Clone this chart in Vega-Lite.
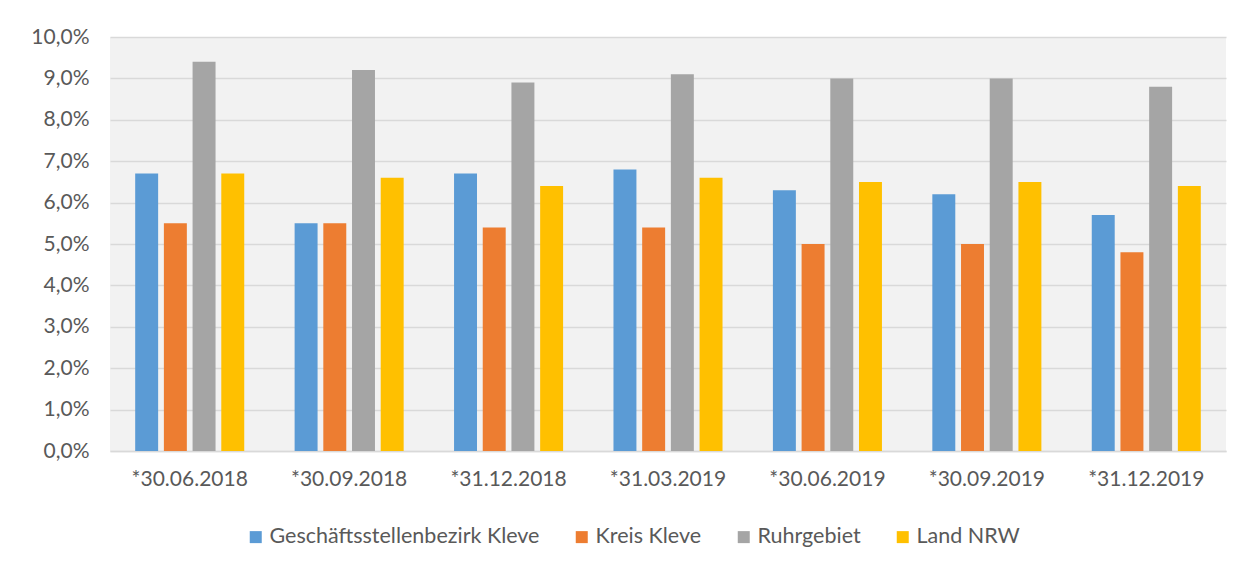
{
  "$schema": "https://vega.github.io/schema/vega-lite/v6.json",
  "width": 1116,
  "height": 414,
  "autosize": "none",
  "padding": {"left": 110, "top": 37, "right": 12, "bottom": 117},
  "background": "#ffffff",
  "config": {
    "font": "Lato",
    "view": {"fill": "#f2f2f2", "stroke": null}
  },
  "data": {
    "values": [
      {"datum": "*30.06.2018", "serie": "Geschäftsstellenbezirk Kleve", "wert": 6.7},
      {"datum": "*30.06.2018", "serie": "Kreis Kleve", "wert": 5.5},
      {"datum": "*30.06.2018", "serie": "Ruhrgebiet", "wert": 9.4},
      {"datum": "*30.06.2018", "serie": "Land NRW", "wert": 6.7},
      {"datum": "*30.09.2018", "serie": "Geschäftsstellenbezirk Kleve", "wert": 5.5},
      {"datum": "*30.09.2018", "serie": "Kreis Kleve", "wert": 5.5},
      {"datum": "*30.09.2018", "serie": "Ruhrgebiet", "wert": 9.2},
      {"datum": "*30.09.2018", "serie": "Land NRW", "wert": 6.6},
      {"datum": "*31.12.2018", "serie": "Geschäftsstellenbezirk Kleve", "wert": 6.7},
      {"datum": "*31.12.2018", "serie": "Kreis Kleve", "wert": 5.4},
      {"datum": "*31.12.2018", "serie": "Ruhrgebiet", "wert": 8.9},
      {"datum": "*31.12.2018", "serie": "Land NRW", "wert": 6.4},
      {"datum": "*31.03.2019", "serie": "Geschäftsstellenbezirk Kleve", "wert": 6.8},
      {"datum": "*31.03.2019", "serie": "Kreis Kleve", "wert": 5.4},
      {"datum": "*31.03.2019", "serie": "Ruhrgebiet", "wert": 9.1},
      {"datum": "*31.03.2019", "serie": "Land NRW", "wert": 6.6},
      {"datum": "*30.06.2019", "serie": "Geschäftsstellenbezirk Kleve", "wert": 6.3},
      {"datum": "*30.06.2019", "serie": "Kreis Kleve", "wert": 5.0},
      {"datum": "*30.06.2019", "serie": "Ruhrgebiet", "wert": 9.0},
      {"datum": "*30.06.2019", "serie": "Land NRW", "wert": 6.5},
      {"datum": "*30.09.2019", "serie": "Geschäftsstellenbezirk Kleve", "wert": 6.2},
      {"datum": "*30.09.2019", "serie": "Kreis Kleve", "wert": 5.0},
      {"datum": "*30.09.2019", "serie": "Ruhrgebiet", "wert": 9.0},
      {"datum": "*30.09.2019", "serie": "Land NRW", "wert": 6.5},
      {"datum": "*31.12.2019", "serie": "Geschäftsstellenbezirk Kleve", "wert": 5.7},
      {"datum": "*31.12.2019", "serie": "Kreis Kleve", "wert": 4.8},
      {"datum": "*31.12.2019", "serie": "Ruhrgebiet", "wert": 8.8},
      {"datum": "*31.12.2019", "serie": "Land NRW", "wert": 6.4}
    ]
  },
  "mark": {"type": "bar"},
  "encoding": {
    "x": {
      "field": "datum",
      "type": "nominal",
      "sort": null,
      "scale": {"paddingInner": 0.316, "paddingOuter": 0.158},
      "axis": {
        "title": null,
        "labelAngle": 0,
        "labelFontSize": 21,
        "labelColor": "#595959",
        "labelPadding": 17,
        "ticks": false,
        "domainColor": "#d9d9d9",
        "domainWidth": 1.5
      }
    },
    "xOffset": {
      "field": "serie",
      "type": "nominal",
      "sort": ["Geschäftsstellenbezirk Kleve", "Kreis Kleve", "Ruhrgebiet", "Land NRW"],
      "scale": {"paddingInner": 0.2, "paddingOuter": 0}
    },
    "y": {
      "field": "wert",
      "type": "quantitative",
      "scale": {"domain": [0, 10], "nice": false},
      "axis": {
        "title": null,
        "values": [0, 1, 2, 3, 4, 5, 6, 7, 8, 9, 10],
        "labelExpr": "replace(format(datum.value, '.1f'), '.', ',') + '%'",
        "labelFontSize": 21,
        "labelColor": "#595959",
        "labelPadding": 21,
        "ticks": false,
        "domain": false,
        "gridColor": "#d9d9d9",
        "gridWidth": 1.5
      }
    },
    "color": {
      "field": "serie",
      "type": "nominal",
      "sort": ["Geschäftsstellenbezirk Kleve", "Kreis Kleve", "Ruhrgebiet", "Land NRW"],
      "scale": {
        "domain": ["Geschäftsstellenbezirk Kleve", "Kreis Kleve", "Ruhrgebiet", "Land NRW"],
        "range": ["#5b9bd5", "#ed7d31", "#a5a5a5", "#ffc000"]
      },
      "legend": {
        "title": null,
        "orient": "none",
        "legendX": 135,
        "legendY": 489,
        "direction": "horizontal",
        "symbolType": "square",
        "symbolSize": 144,
        "symbolStrokeWidth": 0,
        "labelFontSize": 21.5,
        "labelColor": "#595959",
        "labelLimit": 400,
        "labelOffset": 3,
        "columnPadding": 31
      }
    }
  }
}
